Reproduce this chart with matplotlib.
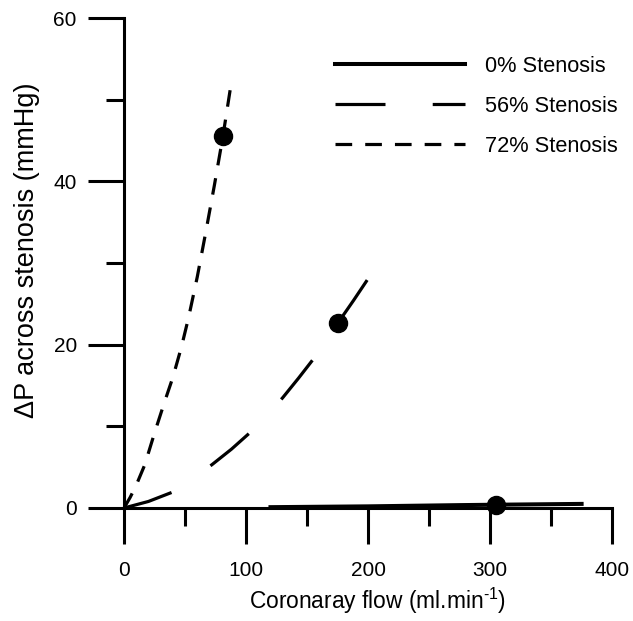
import matplotlib
matplotlib.use('Agg')
import matplotlib.pyplot as plt

plt.rcParams['font.family'] = ['Liberation Sans', 'DejaVu Sans']
plt.rcParams['mathtext.fontset'] = 'custom'
plt.rcParams['mathtext.rm'] = 'Liberation Sans'
plt.rcParams['lines.scale_dashes'] = False

# Data
flow_0 = [120, 200, 275, 305, 375]
dp_0 = [0.1, 0.2, 0.35, 0.4, 0.5]

flow_56 = [0, 20, 39, 55, 72, 88, 103, 117, 130, 143, 156, 166, 175, 188, 201]
dp_56 = [0, 0.8, 1.9, 3.5, 5.3, 7.2, 9.2, 11.3, 13.5, 15.9, 18.4, 20.4, 22.6, 25.4, 28.3]

flow_72 = [0, 5, 10, 17, 25, 33, 40, 47, 53, 60, 67, 74, 81, 88]
dp_72 = [0, 1.3, 2.8, 5.3, 9.2, 12.9, 16.0, 19.7, 23.4, 28.3, 33.8, 39.5, 45.5, 52.2]

marker_flow = [305, 175, 81]
marker_dp = [0.4, 22.6, 45.5]

labels = ['0% Stenosis', '56% Stenosis', '72% Stenosis']
xticks = [0, 100, 200, 300, 400]
xminor = [50, 150, 250, 350]
yticks = [0, 20, 40, 60]
yminor = [10, 30, 50]

W, H = 633, 621
fig = plt.figure(figsize=(W / 100, H / 100), dpi=100)
ax = fig.add_axes([0.196, 0.182, 0.771, 0.789])

lw = 2.3
l0, = ax.plot(flow_0, dp_0, color='black', lw=lw + 0.6, clip_on=False, label=labels[0])
l1, = ax.plot(flow_56, dp_56, color='black', lw=lw, clip_on=False, label=labels[1])
l1.set_dashes([36, 34])
l2, = ax.plot(flow_72, dp_72, color='black', lw=lw, clip_on=False, label=labels[2])
l2.set_dashes([12, 9.4])
ax.plot(marker_flow, marker_dp, 'o', color='black', ms=13, clip_on=False, zorder=5)

ax.set_xlim(0, 400)
ax.set_ylim(0, 60)
for s in ['top', 'right']:
    ax.spines[s].set_visible(False)
for s in ['left', 'bottom']:
    ax.spines[s].set_linewidth(2.2)

ax.set_xticks(xticks)
ax.set_xticks(xminor, minor=True)
ax.set_yticks(yticks)
ax.set_yticks(yminor, minor=True)
ax.tick_params(axis='both', which='major', length=26, width=2.2, labelsize=15, color='black')
ax.tick_params(axis='both', which='minor', length=13, width=2.2, color='black')
ax.tick_params(axis='x', which='major', pad=12)
ax.tick_params(axis='y', which='major', pad=8)

fig.text(378 / W, 1 - 601 / H, 'Coronaray flow (ml.min$^{\\text{-1}}$)',
         fontsize=16.4, ha='center', va='center')
fig.text(27 / W, 1 - 250 / H, '\u0394P across stenosis (mmHg)',
         fontsize=19.5, ha='center', va='center', rotation=90)

leg = ax.legend(handles=[l0, l1, l2], loc='upper left',
                bbox_to_anchor=(335 / W, 1 - 56 / H), bbox_transform=fig.transFigure,
                frameon=False, fontsize=15.7, handlelength=5.96, handletextpad=0.92,
                labelspacing=0.86, borderpad=0, borderaxespad=0)

fig.savefig('out.png', dpi=100)
